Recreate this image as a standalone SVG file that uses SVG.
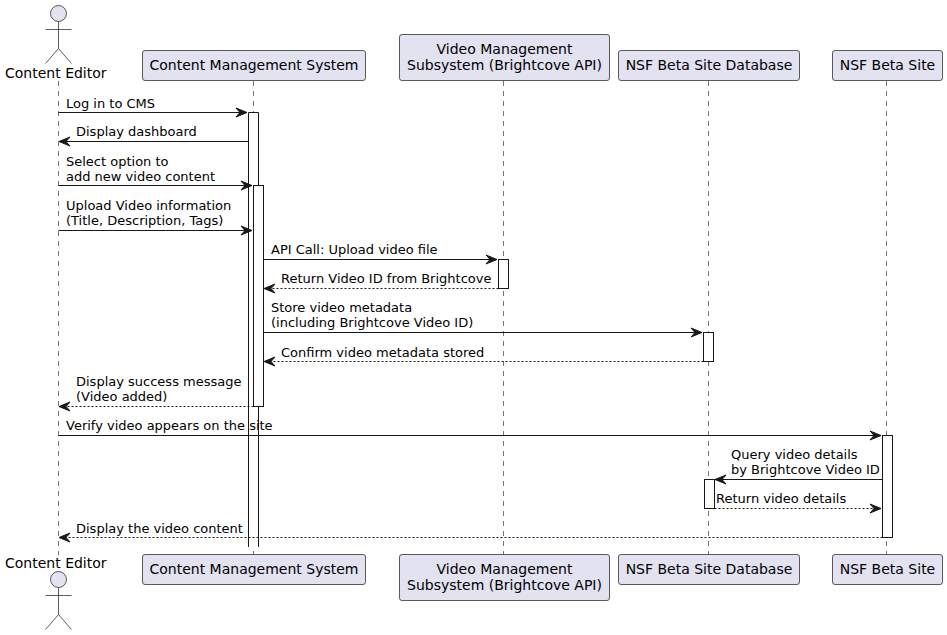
<svg xmlns="http://www.w3.org/2000/svg" width="947" height="635" viewBox="0 0 947 635">
<style>
text{font-family:"DejaVu Sans",sans-serif;fill:#000}
.m{font-size:13px}
.p{font-size:14px}
.c{text-anchor:middle}
.box{fill:#E2E2F0;stroke:#181818;stroke-width:.7}
.life{stroke:#181818;stroke-width:.6;stroke-dasharray:5,5;fill:none}
.bar{fill:#fff;stroke:#181818;stroke-width:1}
.head{fill:#E2E2F0;stroke:#181818;stroke-width:.7}
.limb{fill:none;stroke:#181818;stroke-width:.7}
.s{stroke:#181818;stroke-width:1;fill:none;marker-end:url(#a)}
.d{stroke:#181818;stroke-width:1;fill:none;stroke-dasharray:2,2;marker-end:url(#a)}
</style>
<defs>
<marker id="a" markerUnits="userSpaceOnUse" markerWidth="15" markerHeight="14" refX="13" refY="7" orient="auto">
<path d="M13 7L2 2.5L6 7L2 11.5Z" fill="#181818" stroke="#181818" stroke-width="1"/>
</marker>
</defs>
<g id="lifelines">
<path class="life" d="M58.5 81V555M253.5 81V555M503.5 81V555M708.5 81V555M886.5 81V555"/>
</g>
<g id="actor-content-editor">
<circle class="head" cx="58.5" cy="13.5" r="8"/>
<path class="limb" d="M58.5 21.5V48.5M45.5 29.5H71.5M58.5 48.5L45.5 63.5M58.5 48.5L71.5 63.5"/>
<text class="p" x="5" y="78">Content Editor</text>
<text class="p" x="5" y="568">Content Editor</text>
<circle class="head" cx="58.5" cy="579.5" r="8"/>
<path class="limb" d="M58.5 587.5V614.5M45.5 595.5H71.5M58.5 614.5L45.5 629.5M58.5 614.5L71.5 629.5"/>
</g>
<g id="participant-cms">
<rect class="box" x="142.5" y="50.5" width="223" height="30" rx="2.5"/>
<text class="p c" x="254" y="70">Content Management System</text>
<rect class="box" x="142.5" y="554.5" width="223" height="30" rx="2.5"/>
<text class="p c" x="254" y="574">Content Management System</text>
</g>
<g id="participant-video">
<rect class="box" x="399.5" y="34.5" width="210" height="46" rx="2.5"/>
<text class="p c" x="504.5" y="54">Video Management</text>
<text class="p c" x="504.5" y="70">Subsystem (Brightcove API)</text>
<rect class="box" x="399.5" y="554.5" width="210" height="46" rx="2.5"/>
<text class="p c" x="504.5" y="574">Video Management</text>
<text class="p c" x="504.5" y="590">Subsystem (Brightcove API)</text>
</g>
<g id="participant-db">
<rect class="box" x="618.5" y="50.5" width="181" height="30" rx="2.5"/>
<text class="p c" x="709" y="70">NSF Beta Site Database</text>
<rect class="box" x="618.5" y="554.5" width="181" height="30" rx="2.5"/>
<text class="p c" x="709" y="574">NSF Beta Site Database</text>
</g>
<g id="participant-site">
<rect class="box" x="832.5" y="50.5" width="110" height="30" rx="2.5"/>
<text class="p c" x="887.5" y="70">NSF Beta Site</text>
<rect class="box" x="832.5" y="554.5" width="110" height="30" rx="2.5"/>
<text class="p c" x="887.5" y="574">NSF Beta Site</text>
</g>
<g id="activations">
<path class="bar" d="M248.5 547V112.5H258.5V547" style="stroke:none"/>
<path class="bar" d="M248.5 547V112.5H258.5V547" style="fill:none"/>
<rect class="bar" x="253.5" y="185.5" width="10" height="221"/>
<rect class="bar" x="498.5" y="259.5" width="10" height="29"/>
<rect class="bar" x="703.5" y="332.5" width="10" height="29"/>
<rect class="bar" x="882.5" y="435.5" width="10" height="102"/>
<rect class="bar" x="704.5" y="479.5" width="10" height="29"/>
</g>
<g id="connectors">
<path class="s" d="M58.5 112.5H247"/>
<path class="s" d="M248.5 141.5H59"/>
<path class="s" d="M58.5 185.5H252"/>
<path class="s" d="M58.5 230.5H252"/>
<path class="s" d="M263.5 259.5H497"/>
<path class="d" d="M498.5 288.5H264"/>
<path class="s" d="M263.5 332.5H702"/>
<path class="d" d="M703.5 361.5H264"/>
<path class="d" d="M253.5 406.5H59"/>
<path class="s" d="M58.5 435.5H881"/>
<path class="s" d="M882.5 479.5H715"/>
<path class="d" d="M714.5 508.5H881"/>
<path class="d" d="M882.5 537.5H59"/>
</g>
<g id="labels">
<text class="m" x="66" y="108">Log in to CMS</text>
<text class="m" x="76" y="136">Display dashboard</text>
<text class="m" x="66" y="166">Select option to</text>
<text class="m" x="66" y="181">add new video content</text>
<text class="m" x="66" y="210">Upload Video information</text>
<text class="m" x="66" y="225">(Title, Description, Tags)</text>
<text class="m" x="271" y="254">API Call: Upload video file</text>
<text class="m" x="281" y="283">Return Video ID from Brightcove</text>
<text class="m" x="271" y="312">Store video metadata</text>
<text class="m" x="271" y="327">(including Brightcove Video ID)</text>
<text class="m" x="281" y="357">Confirm video metadata stored</text>
<text class="m" x="76" y="386">Display success message</text>
<text class="m" x="76" y="401">(Video added)</text>
<text class="m" x="66" y="430">Verify video appears on the site</text>
<text class="m" x="731" y="459">Query video details</text>
<text class="m" x="731" y="474">by Brightcove Video ID</text>
<text class="m" x="716" y="503">Return video details</text>
<text class="m" x="76" y="533">Display the video content</text>
</g>
</svg>
